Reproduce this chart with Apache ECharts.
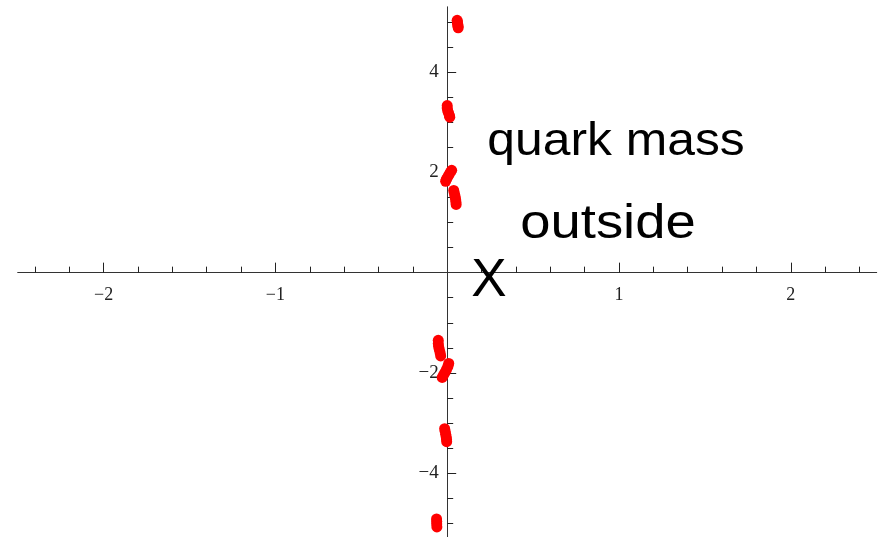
<!DOCTYPE html>
<html>
<head>
<meta charset="utf-8">
<script src="https://cdn.jsdelivr.net/npm/echarts@6/dist/echarts.min.js"></script>
<style>
  html, body { margin: 0; padding: 0; background: #fff; }
  #chart { width: 885px; height: 537px; }
</style>
</head>
<body>
<div id="chart"></div>
<script>
// Zeros in the complex plane: each entry is one sampled zero (Re, Im)
const zeroRe = [
  0.058, 0.059, 0.060, 0.062, 0.063, 0.064,
  0.000, 0.000, 0.003, 0.008, 0.013, 0.015,
  0.026, 0.018, 0.010, 0.002, -0.005, -0.009,
  0.038, 0.042, 0.046, 0.049, 0.051, 0.052,
  -0.052, -0.052, -0.050, -0.046, -0.041, -0.038,
  0.009, 0.004, -0.004, -0.013, -0.021, -0.029,
  -0.015, -0.012, -0.009, -0.006, -0.004, -0.003,
  -0.062, -0.061, -0.061, -0.060
];
const zeroIm = [
  5.03, 5.00, 4.97, 4.94, 4.91, 4.88,
  3.33, 3.28, 3.23, 3.18, 3.13, 3.10,
  2.04, 2.00, 1.95, 1.90, 1.86, 1.82,
  1.64, 1.58, 1.52, 1.46, 1.41, 1.36,
  -1.35, -1.41, -1.47, -1.53, -1.60, -1.66,
  -1.81, -1.87, -1.93, -1.99, -2.04, -2.09,
  -3.11, -3.16, -3.22, -3.27, -3.32, -3.37,
  -4.91, -4.96, -5.01, -5.07
];

// Axis ticks and labels
const xMajorTicks = [-2, -1, 1, 2];
const xMinorTicks = [-2.4, -2.2, -1.8, -1.6, -1.4, -1.2, -0.8, -0.6, -0.4, -0.2,
                     0.2, 0.4, 0.6, 0.8, 1.2, 1.4, 1.6, 1.8, 2.2, 2.4];
const yMajorTicks = [-4, -2, 2, 4];
const yMinorTicks = [-5, -4.5, -3.5, -3, -2.5, -1.5, -1, -0.5,
                     0.5, 1, 1.5, 2.5, 3, 3.5, 4.5, 5];

const annotations = [
  { text: 'quark mass', x: 616, y: 142, size: 47, stretch: 1.06 },
  { text: 'outside', x: 608, y: 224, size: 49, stretch: 1.11 },
  { text: 'X', x: 489, y: 281, size: 53, stretch: 1 }
];

const fmtMinus = v => (v < 0 ? '\u2212' + Math.abs(v) : String(v));

const axisColor = '#333';
const tickColor = '#222';

// Major axis sits on the bottom/left side (ticks inside = up/right);
// the minor-tick axis takes the opposite side, so outside ticks also point up/right.
function xAxisDef(ticks, len, major) {
  return {
    type: 'value', min: -2.5, max: 2.5, gridIndex: 0,
    position: major ? 'bottom' : 'top',
    axisLine: { show: major, onZero: true, onZeroAxisIndex: 0,
                lineStyle: { color: axisColor, width: 1 } },
    axisTick: { show: true, inside: major, length: len, customValues: ticks,
                lineStyle: { color: tickColor, width: 1 } },
    axisLabel: { show: false },
    splitLine: { show: false }
  };
}
function yAxisDef(ticks, len, major) {
  return {
    type: 'value', min: -5.3, max: 5.3, gridIndex: 0,
    position: major ? 'left' : 'right',
    axisLine: { show: major, onZero: true, onZeroAxisIndex: 0,
                lineStyle: { color: axisColor, width: 1 } },
    axisTick: { show: true, inside: major, length: len, customValues: ticks,
                lineStyle: { color: tickColor, width: 1 } },
    axisLabel: { show: false },
    splitLine: { show: false }
  };
}

// Tick labels placed next to the axes crossing at the origin
function tickLabelSeries(points, position, distance, size) {
  return {
    type: 'scatter',
    xAxisIndex: 0, yAxisIndex: 0,
    data: points,
    symbol: 'circle',
    symbolSize: 1,
    silent: true,
    itemStyle: { color: 'rgba(255,255,255,0)' },
    label: {
      show: true, position: position, distance: distance,
      formatter: p => fmtMinus(position === 'bottom' ? p.value[0] : p.value[1]),
      fontFamily: 'Liberation Serif', fontSize: size, color: '#222', opacity: 1
    },
    labelLayout: { hideOverlap: false },
    z: 3
  };
}

const chart = echarts.init(document.getElementById('chart'), null, { renderer: 'canvas' });
chart.setOption({
  animation: false,
  backgroundColor: '#fff',
  grid: { left: 17.7, top: 6.8, width: 859, height: 531.7,
          containLabel: false, outerBoundsMode: 'none' },
  xAxis: [xAxisDef(xMajorTicks, 10, true), xAxisDef(xMinorTicks, 6, false)],
  yAxis: [yAxisDef(yMajorTicks, 9, true), yAxisDef(yMinorTicks, 6, false)],
  series: [
    {
      type: 'scatter',
      xAxisIndex: 0, yAxisIndex: 0,
      data: zeroRe.map((re, i) => [re, zeroIm[i]]),
      symbol: 'circle',
      symbolSize: 11,
      itemStyle: { color: '#ff0000', opacity: 1 },
      z: 5
    },
    tickLabelSeries(xMajorTicks.map(v => [v, 0]), 'bottom', 13, 18),
    tickLabelSeries(yMajorTicks.map(v => [0, v]), 'left', 8, 19)
  ],
  graphic: annotations.map(a => ({
    type: 'text', x: a.x, y: a.y, z: 10, scaleX: a.stretch,
    style: {
      text: a.text, fill: '#000',
      font: a.size + 'px "Liberation Sans", Arial, sans-serif',
      align: 'center', verticalAlign: 'middle'
    }
  }))
});
</script>
</body>
</html>
